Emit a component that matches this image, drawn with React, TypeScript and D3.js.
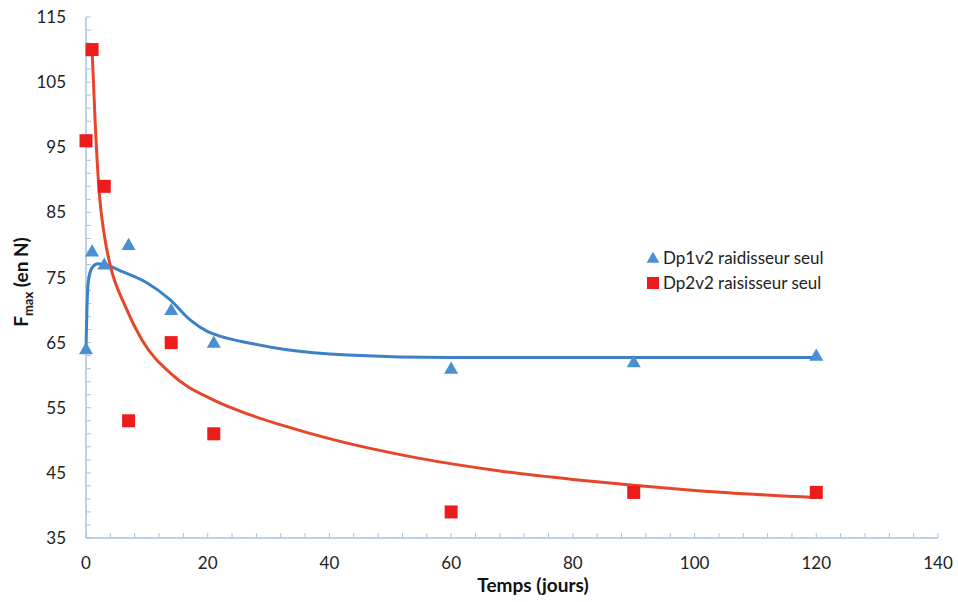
import React from "react";
import * as d3 from "d3";

// Measured points
const daysBlue = [0, 1, 3, 7, 14, 21, 60, 90, 120];
const fmaxBlue = [64, 79, 77, 80, 70, 65, 61, 62, 63];
const daysRed = [0, 1, 3, 7, 14, 21, 60, 90, 120];
const fmaxRed = [96, 110, 89, 53, 65, 51, 39, 42, 42];

// Trend curves
const trendBlueX = [0, 0.15, 0.4, 1, 2, 3, 6, 10, 13.8, 17.1, 20, 22, 27, 33, 43, 60, 90, 120];
const trendBlueY = [64, 70, 74.5, 76.5, 77.1, 77, 75.9, 74.2, 71.6, 68.5, 66.7, 66, 64.9, 63.9, 63.1, 62.7, 62.7, 62.7];
const trendRedX = [1, 1.5, 2.1, 3.1, 3.9, 6.5, 9.2, 14, 20.9, 27, 31.9, 40.6, 54.4, 68, 80, 90, 100, 120];
const trendRedY = [110, 99, 89, 81, 77.2, 70.5, 65.4, 60.2, 56.2, 53.9, 52.4, 50.1, 47.3, 45.3, 44, 43.1, 42.3, 41.2];

const xTicks = [0, 20, 40, 60, 80, 100, 120, 140];
const yTicks = [35, 45, 55, 65, 75, 85, 95, 105, 115];

const seriesNames = ["Dp1v2 raidisseur seul", "Dp2v2 raisisseur seul"];

const BLUE_M = "#4A8FD2";
const BLUE_L = "#3D80C6";
const RED_M = "#EC1C1C";
const RED_L = "#E6462A";
const AXIS = "#A8C3DF";
const FONT = "Lato, 'Open Sans', sans-serif";

export default function App() {
  const W = 958, H = 602;
  const x = d3.scaleLinear().domain([0, 140]).range([86, 938]);
  const y = d3.scaleLinear().domain([35, 115]).range([538, 17]);

  const line = d3
    .line<[number, number]>()
    .x((d) => x(d[0]))
    .y((d) => y(d[1]))
    .curve(d3.curveMonotoneX);

  const blueTrend = line(trendBlueX.map((v, i) => [v, trendBlueY[i]] as [number, number])) || "";
  const redTrend = line(trendRedX.map((v, i) => [v, trendRedY[i]] as [number, number])) || "";

  const xMinor = d3.range(0, 141, 4);
  const yMinor = d3.range(35, 116, 2);

  const tri = d3.symbol().type(d3.symbolTriangle).size(85)() || "";
  const sq = 13;

  return (
    <svg width={W} height={H} style={{ position: "absolute", left: 0, top: 0, background: "#fff" }}>
      <rect x={0} y={0} width={W} height={H} fill="#fff" />
      {/* axes */}
      <line x1={x(0)} x2={x(140)} y1={y(35)} y2={y(35)} stroke={AXIS} strokeWidth={1.5} />
      <line x1={x(0)} x2={x(0)} y1={y(35)} y2={y(115)} stroke={AXIS} strokeWidth={1.5} />
      {xMinor.map((t) => (
        <line key={"xm" + t} x1={x(t)} x2={x(t)} y1={y(35)} y2={y(35) - 5} stroke={AXIS} strokeWidth={1} />
      ))}
      {yMinor.map((t) => (
        <line key={"ym" + t} x1={x(0)} x2={x(0) + 5} y1={y(t)} y2={y(t)} stroke={AXIS} strokeWidth={1} />
      ))}
      {xTicks.map((t) => (
        <text key={"xt" + t} x={x(t)} y={569} textAnchor="middle" fontFamily={FONT} fontSize={17} fill="#222">
          {t}
        </text>
      ))}
      {yTicks.map((t) => (
        <text key={"yt" + t} x={66} y={y(t) + 6} textAnchor="end" fontFamily={FONT} fontSize={17} fill="#222">
          {t}
        </text>
      ))}
      {/* axis titles */}
      <text x={533} y={592} textAnchor="middle" fontFamily={FONT} fontSize={19} fontWeight="bold" fill="#111">
        Temps (jours)
      </text>
      <text
        transform={`translate(28, 282) rotate(-90)`}
        textAnchor="middle"
        fontFamily={FONT}
        fontSize={19}
        fontWeight="bold"
        fill="#111"
      >
        F<tspan fontSize={13} dy={5}>max</tspan>
        <tspan dy={-5}> (en N)</tspan>
      </text>

      {/* trend curves */}
      <path d={blueTrend} fill="none" stroke={BLUE_L} strokeWidth={3} />
      <path d={redTrend} fill="none" stroke={RED_L} strokeWidth={3} />

      {/* markers */}
      {daysBlue.map((d, i) => (
        <path key={"b" + i} d={tri} transform={`translate(${x(d)},${y(fmaxBlue[i]) + 1})`} fill={BLUE_M} />
      ))}
      {daysRed.map((d, i) => (
        <rect
          key={"r" + i}
          x={x(d) - sq / 2}
          y={y(fmaxRed[i]) - sq / 2}
          width={sq}
          height={sq}
          fill={RED_M}
        />
      ))}

      {/* legend */}
      <path d={d3.symbol().type(d3.symbolTriangle).size(70)() || ""} transform="translate(653,259)" fill={BLUE_M} />
      <text x={663} y={264} fontFamily={FONT} fontSize={17} fill="#222">
        {seriesNames[0]}
      </text>
      <rect x={647} y={277} width={12} height={12} fill={RED_M} />
      <text x={663} y={289} fontFamily={FONT} fontSize={17} fill="#222">
        {seriesNames[1]}
      </text>
    </svg>
  );
}
